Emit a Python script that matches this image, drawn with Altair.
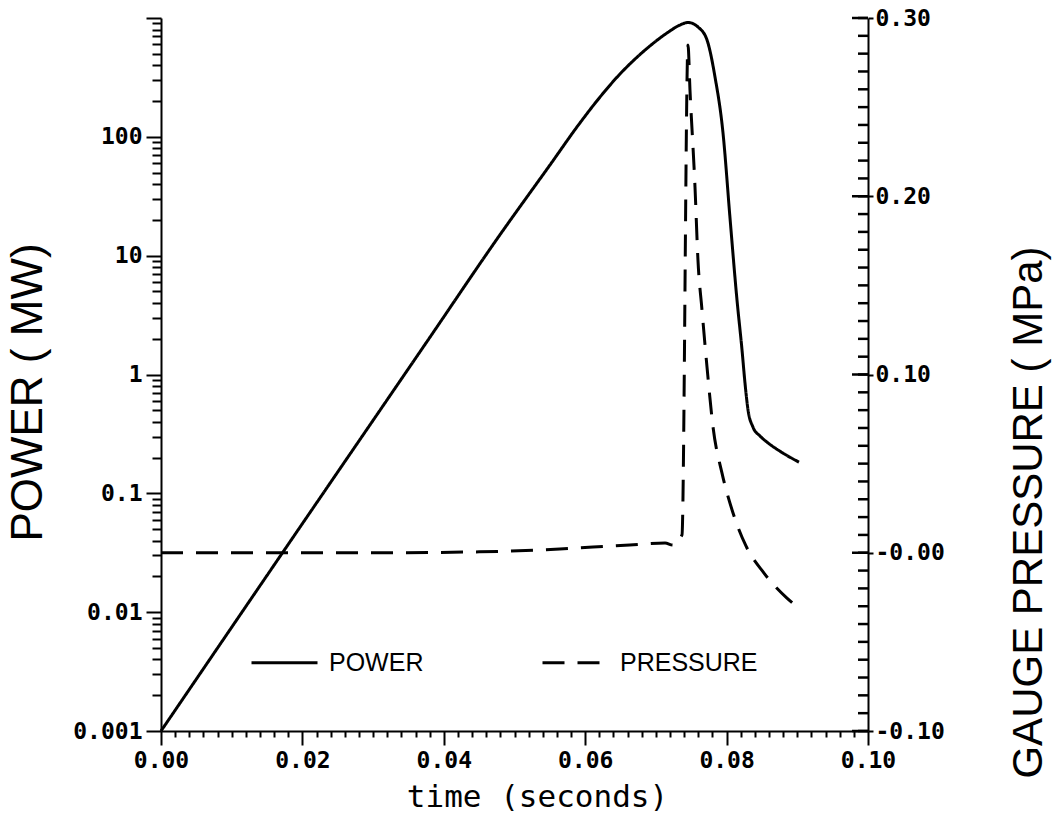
import altair as alt
import pandas as pd

# ---- data ----
T_POWER = [0.0, 0.01726, 0.03777, 0.04781, 0.05502, 0.05926, 0.06209, 0.06492,
           0.06676, 0.06916, 0.07157, 0.07341, 0.07454, 0.07595, 0.07723, 0.07836,
           0.07949, 0.08048, 0.08147, 0.08218, 0.08260, 0.08303, 0.08373, 0.08472,
           0.08571, 0.08798, 0.09024]
POWER_MW = [0.001, 0.0321, 1.95, 14.6, 58.0, 131, 216, 338,
            435, 582, 748, 873, 917, 840, 653, 319,
            108, 20.8, 4.24, 1.61, 0.849, 0.503, 0.361, 0.304,
            0.270, 0.218, 0.183]

T_PRESS = [0.0, 0.030, 0.0450, 0.0564, 0.0611, 0.0663, 0.0713, 0.0724, 0.07369,
           0.07454, 0.07482, 0.07553, 0.07595, 0.07652, 0.07723, 0.07808, 0.07935,
           0.08091, 0.08274, 0.08529, 0.08854, 0.08967]
PRESS_MPA = [0.0, 0.0, 0.0005, 0.0021, 0.0032, 0.0043, 0.0055, 0.0043, 0.0100,
             0.2849, 0.2596, 0.2052, 0.1642, 0.1362, 0.1042, 0.0705, 0.0447,
             0.0223, 0.0038, -0.0114, -0.0254, -0.0293]

SERIES = ["POWER", "PRESSURE"]

# axis tick values
X_TICKS = [round(i * 0.002, 3) for i in range(51)]
LOG_TICKS = [round(m * 10.0 ** k, 6) for k in range(-3, 3) for m in range(1, 10)] + [1000.0]
P_MAJOR = [-0.1, 0.0, 0.1, 0.2, 0.3]
P_TICKS = [round(-0.1 + i * 0.01, 2) for i in range(41)]

W, H = 707, 713
LABEL_FONT = "DejaVu Sans Mono"
TITLE_FONT = "Liberation Sans"

power_df = pd.DataFrame({"t": T_POWER, "v": POWER_MW, "series": SERIES[0]})
press_df = pd.DataFrame({"t": T_PRESS, "v": PRESS_MPA, "series": SERIES[1]})
minor_df = pd.DataFrame({"pm": P_TICKS})
major_df = pd.DataFrame({"pj": P_MAJOR})

x_axis = alt.Axis(
    values=X_TICKS,
    title="time  (seconds)",
    labelExpr="(round(datum.value*1000) % 20 == 0) ? format(datum.value, '.2f') : ''",
    tickSize={"condition": {"test": "round(datum.value*1000) % 20 == 0", "value": 14}, "value": 6},
    labelFlush=False,
    labelOverlap=False,
    labelPadding=4,
    titleFont=LABEL_FONT,
    titleFontSize=31,
    titleFontWeight="normal",
    titleX=376,
    titleY=75,
    titleBaseline="alphabetic",
)
x_scale = alt.Scale(domain=[0, 0.1], nice=False, zero=False)

dash_scale = alt.Scale(domain=SERIES, range=[[1, 0], [22, 13]])
dash_legend = alt.Legend(
    title=None, orient="none", legendX=89, legendY=610, direction="horizontal",
    symbolType="stroke", symbolSize=4356, symbolStrokeWidth=3, symbolStrokeColor="black",
    labelFont=TITLE_FONT, labelFontSize=25, labelColor="black", labelOffset=10, columnPadding=112,
)

power = alt.Chart(power_df).mark_line(color="black", strokeWidth=3, interpolate="monotone").encode(
    x=alt.X("t:Q", scale=x_scale, axis=x_axis),
    y=alt.Y(
        "v:Q",
        scale=alt.Scale(type="log", domain=[0.001, 1000], nice=False),
        axis=alt.Axis(
            orient="left", values=LOG_TICKS, title="POWER ( MW)",
            labelExpr="(abs(log(datum.value)/LN10 - round(log(datum.value)/LN10)) < 0.001 && datum.value < 999) ? format(datum.value, '~g') : ''",
            tickSize={"condition": {"test": "abs(log(datum.value)/LN10 - round(log(datum.value)/LN10)) < 0.001", "value": 15}, "value": 9},
            labelFlush=False, labelOverlap=False, labelPadding=4,
            titleFont=TITLE_FONT, titleFontSize=44, titleFontWeight="normal",
            titleAngle=270, titleAlign="center", titleBaseline="middle", titleX=-133, titleY=374,
        ),
    ),
    strokeDash=alt.StrokeDash("series:N", scale=dash_scale, legend=dash_legend),
)

p_axis = alt.Axis(
    orient="right", values=P_MAJOR, title="GAUGE PRESSURE ( MPa)",
    labelExpr="datum.value <= 0 ? '-' + format(abs(datum.value), '.2f') : format(datum.value, '.2f')",
    tickSize=5, labelFlush=False, labelOverlap=False, labelPadding=2,
    titleFont=TITLE_FONT, titleFontSize=42, titleFontWeight="normal",
    titleAngle=270, titleAlign="center", titleBaseline="middle", titleX=160, titleY=494,
)

pressure = alt.Chart(press_df).mark_line(color="black", strokeWidth=3, interpolate="monotone").encode(
    x=alt.X("t:Q", scale=x_scale, axis=x_axis),
    y=alt.Y("v:Q", scale=alt.Scale(domain=[-0.1, 0.3], nice=False, zero=False), axis=p_axis),
    strokeDash=alt.StrokeDash("series:N", scale=dash_scale, legend=dash_legend),
)

# inward-pointing ticks on the pressure axis (own scale with the same domain)
minor_ticks = alt.Chart(minor_df).mark_rule(color="black", strokeWidth=2.5).encode(
    y=alt.Y("pm:Q", scale=alt.Scale(domain=[-0.1, 0.3], nice=False, zero=False), axis=None),
    x=alt.value(W - 10),
    x2=alt.value(W),
)
major_ticks = alt.Chart(major_df).mark_rule(color="black", strokeWidth=2.5).encode(
    y=alt.Y("pj:Q", scale=alt.Scale(domain=[-0.1, 0.3], nice=False, zero=False), axis=None),
    x=alt.value(W - 16),
    x2=alt.value(W),
)

chart = alt.layer(power, pressure, minor_ticks, major_ticks).resolve_scale(y="independent").properties(
    width=W, height=H,
    autosize=alt.AutoSizeParams(type="none"),
    padding={"left": 161, "top": 18, "right": 187, "bottom": 84},
    background="white",
).configure_view(stroke=None).configure_axis(
    grid=False, domainColor="black", domainWidth=2, tickColor="black", tickWidth=2,
    labelFont=LABEL_FONT, labelFontSize=23, labelFontWeight="bold", labelColor="black", titleColor="black",
)

chart.save("out.html", embed_options={"renderer": "svg", "actions": False})
